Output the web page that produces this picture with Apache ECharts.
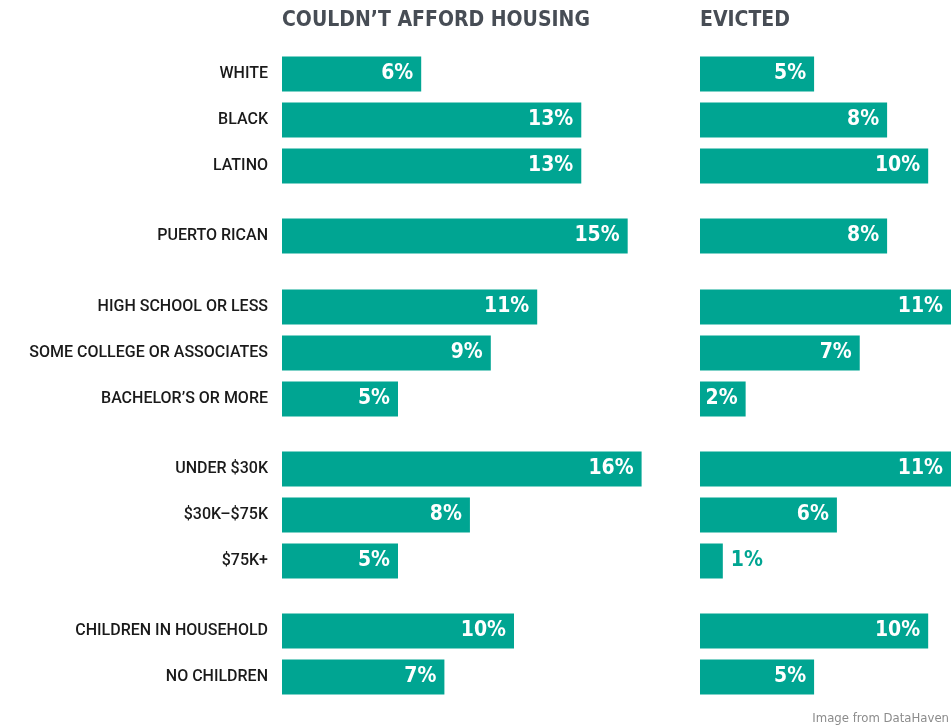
<!DOCTYPE html>
<html>
<head>
<meta charset="utf-8">
<script src="https://cdn.jsdelivr.net/npm/echarts@6/dist/echarts.min.js"></script>
<style>
    html, body {margin:0; padding:0; background:#fff;}
    #main {width:951px; height:728px;}
</style>
</head>
<body>
<div id="main"></div>
<script>
var categories = ['WHITE', 'BLACK', 'LATINO', 'PUERTO RICAN',
    'HIGH SCHOOL OR LESS', 'SOME COLLEGE OR ASSOCIATES', 'BACHELOR\u2019S OR MORE',
    'UNDER $30K', '$30K\u2013$75K', '$75K+',
    'CHILDREN IN HOUSEHOLD', 'NO CHILDREN'];
var groupSizes    = [3, 1, 3, 3, 2];
var affordValues  = [6, 12.9, 12.9, 14.9, 11, 9, 5, 15.5, 8.1, 5, 10, 7];
var evictedValues = [5, 8.2, 10, 8.2, 11, 7, 2, 11, 6, 1, 10, 5];
var panelTitles   = ['COULDN\u2019T AFFORD HOUSING', 'EVICTED'];

var barColor  = '#00a592';
var fontName  = '"Liberation Sans Narrow", "DejaVu Sans Condensed", Roboto, sans-serif';
var labelFont = 'Roboto, "Noto Sans", sans-serif';
var rowPitch  = 46;
var pxPerUnit = 23.2;
var groupTops = [51, 213, 284, 446, 608];

var panels = [
    {left: 282, max: 17, values: affordValues},
    {left: 700, max: 11, values: evictedValues}
];

var grids = [], xAxes = [], yAxes = [], series = [];
panels.forEach(function(panel, p)
{
    var start = 0;
    groupSizes.forEach(function(size, g)
    {
        var idx  = grids.length;
        var cats = categories.slice(start, start + size);
        var vals = panel.values.slice(start, start + size);
        start += size;

        grids.push({left: panel.left, top: groupTops[g], width: panel.max * pxPerUnit, height: size * rowPitch});
        xAxes.push({type: 'value', gridIndex: idx, min: 0, max: panel.max, show: false});
        yAxes.push({
            type: 'category', gridIndex: idx, inverse: true, data: cats,
            axisLine: {show: false}, axisTick: {show: false},
            axisLabel: {show: p == 0, margin: 14, color: '#1a1a1a', fontSize: 16, fontWeight: 500, fontFamily: labelFont}
        });
        series.push({
            type: 'bar', xAxisIndex: idx, yAxisIndex: idx, barWidth: 35,
            itemStyle: {color: barColor},
            label: {
                show: true, position: 'insideRight', distance: 8,
                color: '#fff', fontSize: 21, fontWeight: 'bold', fontFamily: fontName,
                formatter: function(d){ return Math.round(d.value) + '%'; }
            },
            data: vals.map(function(v)
            {
                if(v < 1.5) return {value: v, label: {position: 'right', color: barColor}};
                return v;
            })
        });
    });
});

var chart = echarts.init(document.getElementById('main'));
chart.setOption({
    animation: false,
    title: panelTitles.map(function(t, i)
    {
        return {text: t, left: panels[i].left, top: 10, padding: 0,
            textStyle: {color: '#474d55', fontSize: 21, fontWeight: 'bold', fontFamily: fontName}};
    }).concat([{text: 'Image from DataHaven', right: 2, bottom: 3, padding: 0,
        textStyle: {color: '#8c8c8c', fontSize: 13, fontWeight: 'normal', fontFamily: fontName}}]),
    grid: grids,
    xAxis: xAxes,
    yAxis: yAxes,
    series: series
});
</script>
</body>
</html>
